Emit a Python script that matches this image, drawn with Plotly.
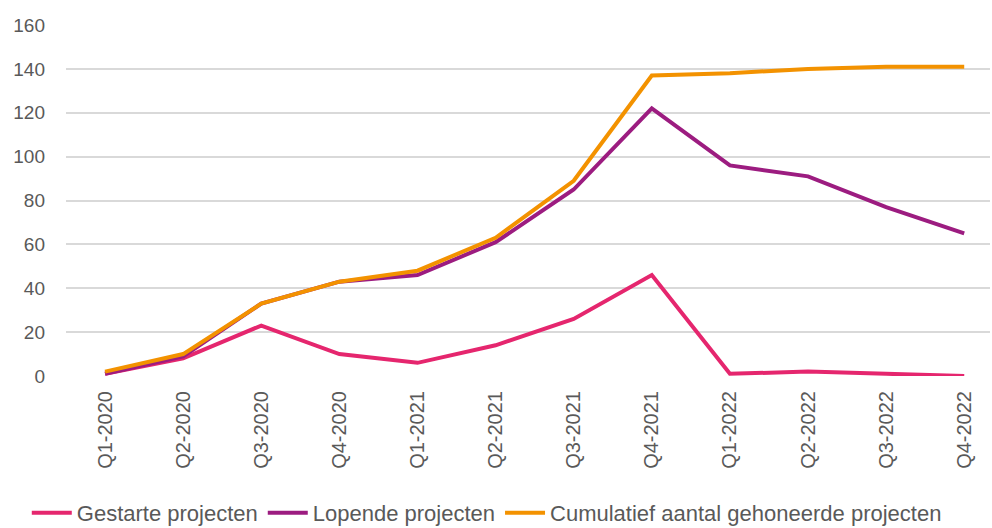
import plotly.graph_objects as go

quarters = ["Q1-2020", "Q2-2020", "Q3-2020", "Q4-2020",
            "Q1-2021", "Q2-2021", "Q3-2021", "Q4-2021",
            "Q1-2022", "Q2-2022", "Q3-2022", "Q4-2022"]
gestarte = [1, 8, 23, 10, 6, 14, 26, 46, 1, 2, 1, 0]
lopende = [1, 9, 33, 43, 46, 61, 85, 122, 96, 91, 77, 65]
cumulatief = [2, 10, 33, 43, 48, 63, 89, 137, 138, 140, 141, 141]

series = [
    ("Gestarte projecten", gestarte, "#E5266E"),
    ("Lopende projecten", lopende, "#9C1C80"),
    ("Cumulatief aantal gehoneerde projecten", cumulatief, "#F39200"),
]

fig = go.Figure()
for name, vals, col in series:
    fig.add_trace(go.Scatter(x=quarters, y=vals, name=name, mode="lines",
                             line=dict(color=col, width=4)))

fam = "Liberation Sans, Arial, sans-serif"
grey = "#595959"
fig.update_layout(
    width=992, height=528,
    margin=dict(l=66, r=2, t=25, b=152, autoexpand=False),
    paper_bgcolor="white", plot_bgcolor="white",
    font=dict(family=fam, size=19, color=grey),
    showlegend=True,
    legend=dict(orientation="h", xref="container", x=0.027, xanchor="left",
                y=-0.39, yanchor="middle",
                font=dict(family=fam, size=22, color=grey), itemwidth=40,
                tracegroupgap=0, bgcolor="rgba(0,0,0,0)"),
)
fig.update_xaxes(type="category", range=[-0.5, 11.33], tickangle=-90,
                 showgrid=False, zeroline=False, showline=False, automargin=False,
                 ticks="", ticklabelstandoff=10,
                 tickfont=dict(family=fam, size=20, color=grey))
fig.update_yaxes(range=[0, 160], dtick=20, showgrid=True, gridcolor="#D9D9D9",
                 gridwidth=1.5, zeroline=False, showline=False, ticks="", automargin=False,
                 ticklabelstandoff=20,
                 tickfont=dict(family=fam, size=19, color=grey))

fig.write_html("out.html", config={"displayModeBar": False},
               post_script="document.body.style.margin='0';document.body.style.overflow='hidden';")
